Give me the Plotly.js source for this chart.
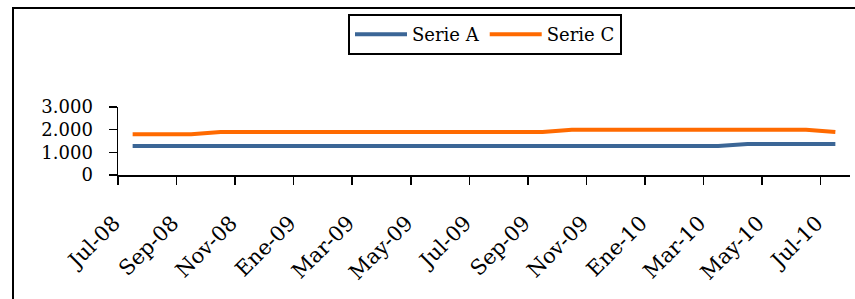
<!DOCTYPE html>
<html>
<head>
<meta charset="utf-8">
<script src="https://cdn.plot.ly/plotly-3.0.1.min.js"></script>
<style>
  html, body { margin: 0; padding: 0; background: #ffffff; }
  #chart { width: 855px; height: 299px; }
</style>
</head>
<body>
<div id="chart"></div>
<script>
// Monthly categories (Spanish month abbreviations)
const categories = [
  "Jul-08", "Ago-08", "Sep-08", "Oct-08", "Nov-08", "Dic-08",
  "Ene-09", "Feb-09", "Mar-09", "Abr-09", "May-09", "Jun-09",
  "Jul-09", "Ago-09", "Sep-09", "Oct-09", "Nov-09", "Dic-09",
  "Ene-10", "Feb-10", "Mar-10", "Abr-10", "May-10", "Jun-10",
  "Jul-10"
];
const serieA = [
  1280, 1280, 1280, 1280, 1280, 1280,
  1280, 1280, 1280, 1280, 1280, 1280,
  1280, 1280, 1280, 1280, 1280, 1280,
  1280, 1280, 1280, 1370, 1370, 1370,
  1370
];
const serieC = [
  1800, 1800, 1800, 1900, 1900, 1900,
  1900, 1900, 1900, 1900, 1900, 1900,
  1900, 1900, 1900, 2000, 2000, 2000,
  2000, 2000, 2000, 2000, 2000, 2000,
  1900
];
const seriesNames = ["Serie A", "Serie C"];
const yTickValues = [0, 1000, 2000, 3000];

const W = 855, H = 299;
const M = { l: 118, r: 5, t: 107, b: 124 };
const plotW = W - M.l - M.r, plotH = H - M.t - M.b;
const px2x = p => (p - M.l) / plotW;
const px2y = p => (H - M.b - p) / plotH;

const FONT = "DejaVu Serif, Liberation Serif, serif";
const idx = categories.map((_, i) => i);

// label every second month at the boundary before it
const tickIdx = idx.filter(i => i % 2 === 0);
const tickvals = tickIdx.map(i => i - 0.5);
const ticktext = tickIdx.map(i => categories[i]);

const traces = [
  { x: idx, y: serieA, name: seriesNames[0], type: "scatter", mode: "lines",
    line: { color: "#3b6696", width: 4 }, hoverinfo: "skip" },
  { x: idx, y: serieC, name: seriesNames[1], type: "scatter", mode: "lines",
    line: { color: "#ff6a00", width: 4 }, hoverinfo: "skip" }
];

const layout = {
  width: W, height: H,
  margin: M,
  paper_bgcolor: "#ffffff",
  plot_bgcolor: "#ffffff",
  separators: ",.",
  font: { family: FONT, size: 18, color: "#000000" },
  showlegend: true,
  legend: {
    orientation: "h",
    x: px2x(485), xanchor: "center",
    y: px2y(14), yanchor: "top",
    itemwidth: 52,
    bordercolor: "#000000", borderwidth: 2, bgcolor: "#ffffff",
    font: { family: FONT, size: 18, color: "#000000" }
  },
  xaxis: {
    range: [-0.5, categories.length - 0.5],
    tickmode: "array", tickvals: tickvals, ticktext: ticktext,
    tickangle: -45,
    ticks: "outside", ticklen: 8, tickwidth: 1.5, tickcolor: "#000000",
    ticklabelstandoff: 18,
    ticklabelshift: -4,
    showline: true, linecolor: "#000000", linewidth: 1.5,
    showgrid: false, zeroline: false, fixedrange: true,
    tickfont: { family: FONT, size: 21, color: "#000000" }
  },
  yaxis: {
    range: [0, 3000],
    tickmode: "array", tickvals: yTickValues,
    tickformat: ",d",
    ticks: "outside", ticklen: 8, tickwidth: 1.5, tickcolor: "#000000",
    ticklabelstandoff: 12,
    showline: true, linecolor: "#000000", linewidth: 1.5,
    showgrid: false, zeroline: false, fixedrange: true,
    tickfont: { family: FONT, size: 18, color: "#000000" }
  },
  shapes: [{
    type: "rect", xref: "paper", yref: "paper",
    x0: px2x(13), x1: px2x(W + 10),
    y0: px2y(H + 10), y1: px2y(8),
    line: { color: "#000000", width: 2 }, fillcolor: "rgba(0,0,0,0)"
  }]
};

Plotly.newPlot("chart", traces, layout, { displayModeBar: false, staticPlot: true });
</script>
</body>
</html>
